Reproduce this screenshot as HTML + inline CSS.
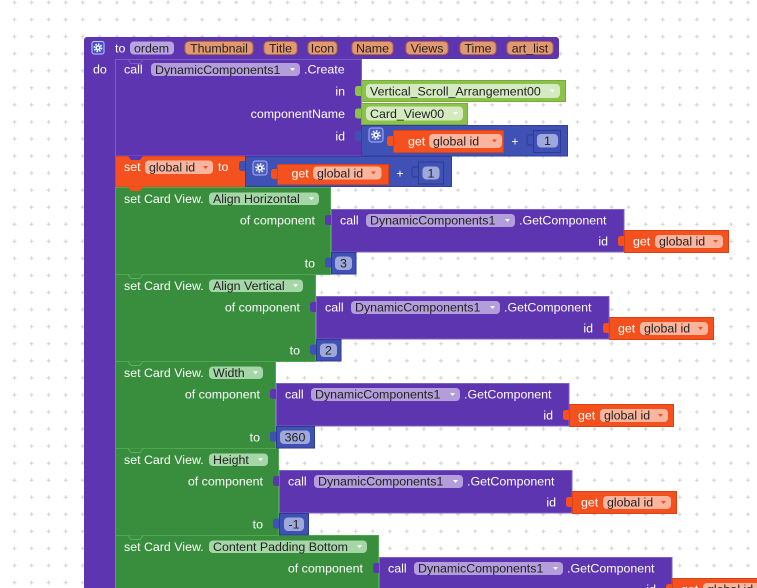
<!DOCTYPE html>
<html><head><meta charset="utf-8"><style>
html,body{margin:0;padding:0;background:#fff;}
svg{display:block;}
text{font-family:"Liberation Sans",Arial,sans-serif;font-size:12.4px;}
.w{fill:#fff}
.k{fill:#222}
.e{text-anchor:end}
.m{text-anchor:middle}
</style></head><body>
<svg width="757" height="588" viewBox="0 0 757 588" xmlns="http://www.w3.org/2000/svg">
<defs>
<pattern id="g" width="17.06" height="17.06" patternUnits="userSpaceOnUse" x="6" y="-6">
<path d="M6.5 8.5h4M8.5 6.5v4" stroke="#d2d2d2" stroke-width="1"/>
</pattern>
</defs>
<rect width="757" height="588" fill="#fff"/>
<rect width="757" height="588" fill="url(#g)"/>

<!-- procedure -->
<rect x="84" y="37" width="475" height="22" rx="3" fill="#5e35b1"/>
<rect x="84" y="50" width="32" height="540" fill="#5e35b1"/>
<rect x="92" y="41.5" width="12" height="12.5" rx="2" fill="#3d4fd6" stroke="#c5cae9"/>
<circle cx="98" cy="47.75" r="3.6" fill="none" stroke="#fff" stroke-width="1.6" stroke-dasharray="1.6 1.2"/>
<circle cx="98" cy="47.75" r="2.6" fill="#fff"/><circle cx="98" cy="47.75" r="1.1" fill="#3d4fd6"/>
<text x="115" y="52.3" class="w">to</text>
<rect x="130" y="41.5" width="44" height="13" rx="4" fill="#b8a5e0"/>
<text x="134" y="52.3" class="k">ordem</text>
<g fill="#e3996f" stroke="#b06a45">
<rect x="185" y="41.5" width="68" height="13" rx="4"/>
<rect x="264" y="41.5" width="33" height="13" rx="4"/>
<rect x="308" y="41.5" width="29" height="13" rx="4"/>
<rect x="352" y="41.5" width="41" height="13" rx="4"/>
<rect x="406" y="41.5" width="42" height="13" rx="4"/>
<rect x="460" y="41.5" width="36" height="13" rx="4"/>
<rect x="507" y="41.5" width="46" height="13" rx="4"/>
</g>
<g class="k m">
<text x="219" y="52.3">Thumbnail</text>
<text x="280.5" y="52.3">Title</text>
<text x="322.5" y="52.3">Icon</text>
<text x="372.5" y="52.3">Name</text>
<text x="427" y="52.3">Views</text>
<text x="478" y="52.3">Time</text>
<text x="530" y="52.3">art_list</text>
</g>
<text x="93" y="73.5" class="w">do</text>

<!-- call Create -->
<rect x="115.5" y="59.5" width="246" height="96.5" fill="#5e35b1" stroke="#7c5cc4"/>
<text x="124" y="73.5" class="w">call</text>
<rect x="151" y="63" width="149" height="13" rx="4" fill="#b39ddb"/>
<text x="155" y="73.8" class="k">DynamicComponents1</text>
<polygon points="290,68 295,68 292.5,71" fill="#fff"/>
<text x="304" y="73.5" class="w">.Create</text>
<text x="345" y="95.3" class="w e">in</text>
<text x="345" y="118" class="w e">componentName</text>
<text x="345" y="140.5" class="w e">id</text>

<!-- lime blocks -->
<rect x="355" y="86" width="8" height="10" rx="2.5" fill="#8bc34a"/>
<rect x="361.5" y="80.5" width="204" height="21" fill="#8bc34a" stroke="#7aa93f"/>
<rect x="366" y="84" width="194" height="14" rx="4" fill="#d5eac0"/>
<text x="370" y="95.3" class="k">Vertical_Scroll_Arrangement00</text>
<polygon points="550,89.5 555,89.5 552.5,92.5" fill="#fff"/>
<rect x="355" y="108.5" width="8" height="10" rx="2.5" fill="#8bc34a"/>
<rect x="361.5" y="103.5" width="106" height="21" fill="#8bc34a" stroke="#7aa93f"/>
<rect x="366" y="106.5" width="97" height="14" rx="4" fill="#d5eac0"/>
<text x="370" y="117.8" class="k">Card_View00</text>
<polygon points="453,112 458,112 455.5,115" fill="#fff"/>

<!-- id add block -->
<rect x="355" y="131" width="8" height="10" rx="2.5" fill="#3f51b5"/>
<rect x="361.5" y="125.5" width="206" height="30.5" fill="#3f51b5" stroke="#303f9f"/>
<rect x="369" y="128" width="14" height="14" rx="2.5" fill="#4a5cc8" stroke="#aab3e6"/>
<circle cx="376" cy="135" r="4" fill="none" stroke="#fff" stroke-width="1.6" stroke-dasharray="1.6 1.5"/>
<circle cx="376" cy="135" r="2.9" fill="#fff"/><circle cx="376" cy="135" r="1.2" fill="#4a5cc8"/>
<rect x="387" y="136" width="8" height="10" rx="2.5" fill="#f4511e"/>
<rect x="393.5" y="130.5" width="110" height="22" fill="#f4511e" stroke="#d84315"/>
<text x="408" y="145.5" class="w">get</text>
<rect x="429" y="134" width="73" height="14" rx="4" fill="#fbb59e"/>
<text x="433" y="145.3" class="k">global id</text>
<polygon points="492,139.5 497,139.5 494.5,142.5" fill="#f4511e"/>
<text x="515" y="145.5" class="w m">+</text>
<rect x="527" y="135" width="8" height="10" rx="2.5" fill="#3f51b5" stroke="#2c3a8f"/>
<rect x="533.5" y="130.5" width="27" height="22" fill="#3f51b5" stroke="#2c3a8f"/>
<rect x="537" y="134" width="21" height="13.5" rx="4" fill="#9fa8da"/>
<text x="547.5" y="145" class="k m">1</text>

<!-- set global id -->
<rect x="115.5" y="156.5" width="131" height="30.5" fill="#f4511e" stroke="#e0461a"/>
<text x="124" y="171" class="w">set</text>
<rect x="145" y="160.5" width="68" height="13.5" rx="4" fill="#fbb59e"/>
<text x="149" y="171.5" class="k">global id</text>
<polygon points="203,166 208,166 205.5,169" fill="#f4511e"/>
<text x="218" y="171" class="w">to</text>
<rect x="239" y="161" width="8" height="10" rx="2.5" fill="#3f51b5"/>
<rect x="245.5" y="156.5" width="206" height="30" fill="#3f51b5" stroke="#303f9f"/>
<rect x="253" y="161" width="14" height="14" rx="2.5" fill="#4a5cc8" stroke="#aab3e6"/>
<circle cx="260" cy="168" r="4" fill="none" stroke="#fff" stroke-width="1.6" stroke-dasharray="1.6 1.5"/>
<circle cx="260" cy="168" r="2.9" fill="#fff"/><circle cx="260" cy="168" r="1.2" fill="#4a5cc8"/>
<rect x="271" y="169" width="8" height="10" rx="2.5" fill="#f4511e"/>
<rect x="277.5" y="164.5" width="111" height="20" fill="#f4511e" stroke="#d84315"/>
<text x="291.5" y="177.5" class="w">get</text>
<rect x="313" y="166.5" width="68.5" height="13" rx="4" fill="#fbb59e"/>
<text x="317" y="177.3" class="k">global id</text>
<polygon points="371,171.5 376,171.5 373.5,174.5" fill="#f4511e"/>
<text x="400" y="177.5" class="w m">+</text>
<rect x="412" y="167" width="8" height="10" rx="2.5" fill="#3f51b5" stroke="#2c3a8f"/>
<rect x="418.5" y="162" width="25" height="22" fill="#3f51b5" stroke="#2c3a8f"/>
<rect x="422.5" y="166.5" width="17" height="13" rx="4" fill="#9fa8da"/>
<text x="431" y="177.3" class="k m">1</text>

<!-- green blocks -->
<g fill="#388e3c" stroke="#4ea852">
<rect x="115.5" y="187.5" width="215" height="87"/>
<rect x="115.5" y="274.5" width="200" height="87"/>
<rect x="115.5" y="361.5" width="160" height="87"/>
<rect x="115.5" y="448.5" width="163" height="87"/>
<rect x="115.5" y="535.5" width="263" height="60"/>
</g>
<g fill="#a5d6a7">
<rect x="209" y="192.5" width="110" height="12.5" rx="4"/>
<rect x="209" y="279.5" width="94" height="12.5" rx="4"/>
<rect x="209" y="366.5" width="54" height="12.5" rx="4"/>
<rect x="209" y="453.5" width="59" height="12.5" rx="4"/>
<rect x="209" y="540.5" width="158" height="12.5" rx="4"/>
</g>
<g fill="#fff">
<polygon points="309,197.3 314,197.3 311.5,200.3"/>
<polygon points="293,284.3 298,284.3 295.5,287.3"/>
<polygon points="253,371.3 258,371.3 255.5,374.3"/>
<polygon points="258,458.3 263,458.3 260.5,461.3"/>
<polygon points="357,545.3 362,545.3 359.5,548.3"/>
</g>
<g class="w">
<text x="124" y="203">set Card View.</text>
<text x="124" y="290">set Card View.</text>
<text x="124" y="377">set Card View.</text>
<text x="124" y="464">set Card View.</text>
<text x="124" y="551">set Card View.</text>
</g>
<g class="k">
<text x="213" y="203">Align Horizontal</text>
<text x="213" y="290">Align Vertical</text>
<text x="213" y="377">Width</text>
<text x="213" y="464">Height</text>
<text x="213" y="551">Content Padding Bottom</text>
</g>
<g class="w e">
<text x="315" y="224.5">of component</text>
<text x="315" y="267.5">to</text>
<text x="300" y="311.5">of component</text>
<text x="300" y="354.5">to</text>
<text x="260" y="398.5">of component</text>
<text x="260" y="441.5">to</text>
<text x="263" y="485.5">of component</text>
<text x="263" y="528.5">to</text>
<text x="363" y="572.5">of component</text>
</g>

<!-- call GetComponent blocks -->
<g fill="#5e35b1">
<rect x="325" y="215" width="8" height="10" rx="2.5"/>
<rect x="310" y="302" width="8" height="10" rx="2.5"/>
<rect x="270" y="389" width="8" height="10" rx="2.5"/>
<rect x="273" y="476" width="8" height="10" rx="2.5"/>
<rect x="373" y="563" width="8" height="10" rx="2.5"/>
</g>
<g fill="#5e35b1" stroke="#7e60c4">
<rect x="331.5" y="209.5" width="292.5" height="42.5"/>
<rect x="316.5" y="296.5" width="292.5" height="42.5"/>
<rect x="276.5" y="383.5" width="292.5" height="42.5"/>
<rect x="279.5" y="470.5" width="292.5" height="42.5"/>
<rect x="379.5" y="557.5" width="292.5" height="42.5"/>
</g>
<g fill="#b39ddb">
<rect x="366" y="214" width="149" height="13" rx="4"/>
<rect x="351" y="301" width="149" height="13" rx="4"/>
<rect x="311" y="388" width="149" height="13" rx="4"/>
<rect x="314" y="475" width="149" height="13" rx="4"/>
<rect x="414" y="562" width="149" height="13" rx="4"/>
</g>
<g fill="#fff">
<polygon points="505,219 510,219 507.5,222"/>
<polygon points="490,306 495,306 492.5,309"/>
<polygon points="450,393 455,393 452.5,396"/>
<polygon points="453,480 458,480 455.5,483"/>
<polygon points="553,567 558,567 555.5,570"/>
</g>
<g class="w">
<text x="340" y="224.5">call</text>
<text x="325" y="311.5">call</text>
<text x="285" y="398.5">call</text>
<text x="288" y="485.5">call</text>
<text x="388" y="572.5">call</text>
<text x="519" y="224.5">.GetComponent</text>
<text x="504" y="311.5">.GetComponent</text>
<text x="464" y="398.5">.GetComponent</text>
<text x="467" y="485.5">.GetComponent</text>
<text x="567" y="572.5">.GetComponent</text>
</g>
<g class="k">
<text x="370" y="224.7">DynamicComponents1</text>
<text x="355" y="311.7">DynamicComponents1</text>
<text x="315" y="398.7">DynamicComponents1</text>
<text x="318" y="485.7">DynamicComponents1</text>
<text x="418" y="572.7">DynamicComponents1</text>
</g>
<g class="w e">
<text x="608" y="245.5">id</text>
<text x="593" y="332.5">id</text>
<text x="553" y="419.5">id</text>
<text x="556" y="506.5">id</text>
<text x="656" y="593.5">id</text>
</g>

<!-- get global id blocks -->
<g fill="#f4511e">
<rect x="618" y="236" width="8" height="10" rx="2.5"/>
<rect x="603" y="323" width="8" height="10" rx="2.5"/>
<rect x="563" y="410" width="8" height="10" rx="2.5"/>
<rect x="566" y="497" width="8" height="10" rx="2.5"/>
<rect x="666" y="584" width="8" height="10" rx="2.5"/>
</g>
<g fill="#f4511e" stroke="#d84315">
<rect x="624.5" y="230.5" width="104" height="22"/>
<rect x="609.5" y="317.5" width="104" height="22"/>
<rect x="569.5" y="404.5" width="104" height="22"/>
<rect x="572.5" y="491.5" width="104" height="22"/>
<rect x="672.5" y="578.5" width="104" height="22"/>
</g>
<g fill="#fbb59e">
<rect x="655" y="235" width="68" height="13" rx="4"/>
<rect x="640" y="322" width="68" height="13" rx="4"/>
<rect x="600" y="409" width="68" height="13" rx="4"/>
<rect x="603" y="496" width="68" height="13" rx="4"/>
<rect x="703" y="583" width="68" height="13" rx="4"/>
</g>
<g fill="#f4511e">
<polygon points="713,240 718,240 715.5,243"/>
<polygon points="698,327 703,327 700.5,330"/>
<polygon points="658,414 663,414 660.5,417"/>
<polygon points="661,501 666,501 663.5,504"/>
</g>
<g class="w">
<text x="633" y="245.5">get</text>
<text x="618" y="332.5">get</text>
<text x="578" y="419.5">get</text>
<text x="581" y="506.5">get</text>
<text x="681" y="593.5">get</text>
</g>
<g class="k">
<text x="659" y="245.3">global id</text>
<text x="644" y="332.3">global id</text>
<text x="604" y="419.3">global id</text>
<text x="607" y="506.3">global id</text>
<text x="707" y="593.3">global id</text>
</g>

<!-- number blocks -->
<g fill="#3f51b5">
<rect x="325" y="257.5" width="8" height="10" rx="2.5"/>
<rect x="310" y="344.5" width="8" height="10" rx="2.5"/>
<rect x="270" y="431.5" width="8" height="10" rx="2.5"/>
<rect x="273" y="518.5" width="8" height="10" rx="2.5"/>
</g>
<g fill="#3f51b5" stroke="#2c3a8f">
<rect x="331.5" y="252.5" width="24.5" height="21.5"/>
<rect x="316.5" y="339.5" width="24.5" height="21.5"/>
<rect x="276.5" y="426.5" width="38" height="21.5"/>
<rect x="279.5" y="513.5" width="29" height="21.5"/>
</g>
<g fill="#9fa8da">
<rect x="335" y="256.5" width="17" height="13.5" rx="4"/>
<rect x="320" y="343.5" width="17" height="13.5" rx="4"/>
<rect x="280" y="430.5" width="30" height="13.5" rx="4"/>
<rect x="284" y="517.5" width="20" height="13.5" rx="4"/>
</g>
<g class="k m">
<text x="343.5" y="267.5">3</text>
<text x="328.5" y="354.5">2</text>
<text x="295" y="441.5">360</text>
<text x="294" y="528.5">-1</text>
</g>

<!-- notches -->
<path d="M116 59.5 H128 l3 4 h9 l3 -4" fill="none" stroke="#7c5cc4"/>
<path d="M128 156 l3 4 h9 l3 -4 z" fill="#5e35b1"/>
<path d="M128 187 l3 4 h9 l3 -4 z" fill="#f4511e"/>
<g fill="#388e3c" stroke="#5fb062">
<path d="M128 274.5 l3 4 h9 l3 -4"/>
<path d="M128 361.5 l3 4 h9 l3 -4"/>
<path d="M128 448.5 l3 4 h9 l3 -4"/>
<path d="M128 535.5 l3 4 h9 l3 -4"/>
</g>
</svg>
</body></html>
